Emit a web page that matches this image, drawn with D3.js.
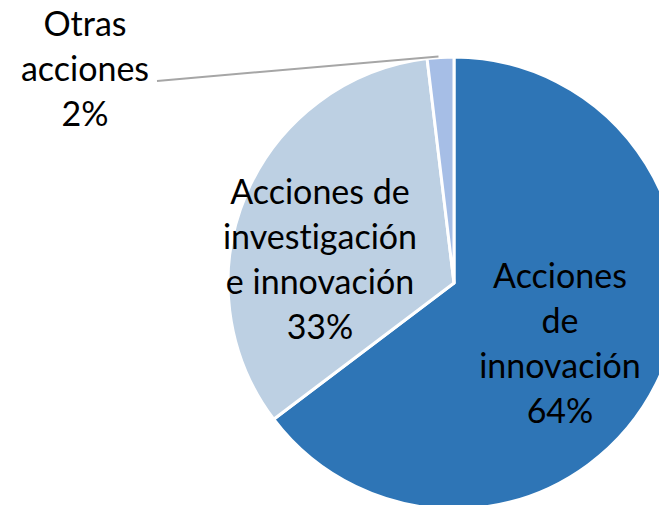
<!DOCTYPE html>
<html><head><meta charset="utf-8">
<script src="https://cdn.jsdelivr.net/npm/d3@7"></script>
<style>html,body{margin:0;padding:0;background:#fff;overflow:hidden} text{font-variant-ligatures:none;font-feature-settings:"liga" 0}</style>
</head><body>
<svg id="c" width="659" height="505"></svg>
<script>
const categories = ["Acciones de innovación", "Acciones de investigación e innovación", "Otras acciones"];
const values = [64.7, 33.4, 1.9];
const percentLabels = ["64%", "33%", "2%"];
const labelLines = [["Acciones", "de", "innovación"], ["Acciones de", "investigación", "e innovación"], ["Otras", "acciones"]];
const colors = ["#2E75B6", "#BDD0E3", "#A6BEE6"];

const svg = d3.select("#c");
const cx = 454, cy = 283, R = 226;
const g = svg.append("g").attr("transform", `translate(${cx},${cy})`);

const pie = d3.pie().sort(null).value(d => d.v);
const data = categories.map((c, i) => ({c, v: values[i], i}));
const arcs = pie(data);
const arc = d3.arc().innerRadius(0).outerRadius(R);

g.selectAll("path").data(arcs).join("path")
  .attr("d", arc)
  .attr("fill", d => colors[d.data.i])
  .attr("stroke", "#fff").attr("stroke-width", 3).attr("stroke-linejoin", "round");

const labelPos = [
  {x: 560, y: 288, anchor: "middle"},
  {x: 320, y: 204, anchor: "middle"},
  {x: 85,  y: 36,  anchor: "middle"}
];
const lineH = 45;
const font = "Lato, 'Open Sans', sans-serif";

arcs.forEach((a) => {
  const i = a.data.i;
  const lines = labelLines[i].concat([percentLabels[i]]);
  const t = svg.append("text")
    .attr("font-family", font).attr("font-size", 34).attr("fill", "#000")
    .attr("text-anchor", labelPos[i].anchor);
  lines.forEach((ln, j) => {
    t.append("tspan").attr("x", labelPos[i].x).attr("y", labelPos[i].y + j * lineH).text(ln);
  });
});

const small = arcs[2];
const mid = (small.startAngle + small.endAngle) / 2;
const ex = cx + Math.sin(mid) * (R + 1), ey = cy - Math.cos(mid) * (R + 1);
svg.append("line")
  .attr("x1", 157).attr("y1", 81).attr("x2", ex - 2).attr("y2", ey)
  .attr("stroke", "#A6A6A6").attr("stroke-width", 2);
</script>
</body></html>
